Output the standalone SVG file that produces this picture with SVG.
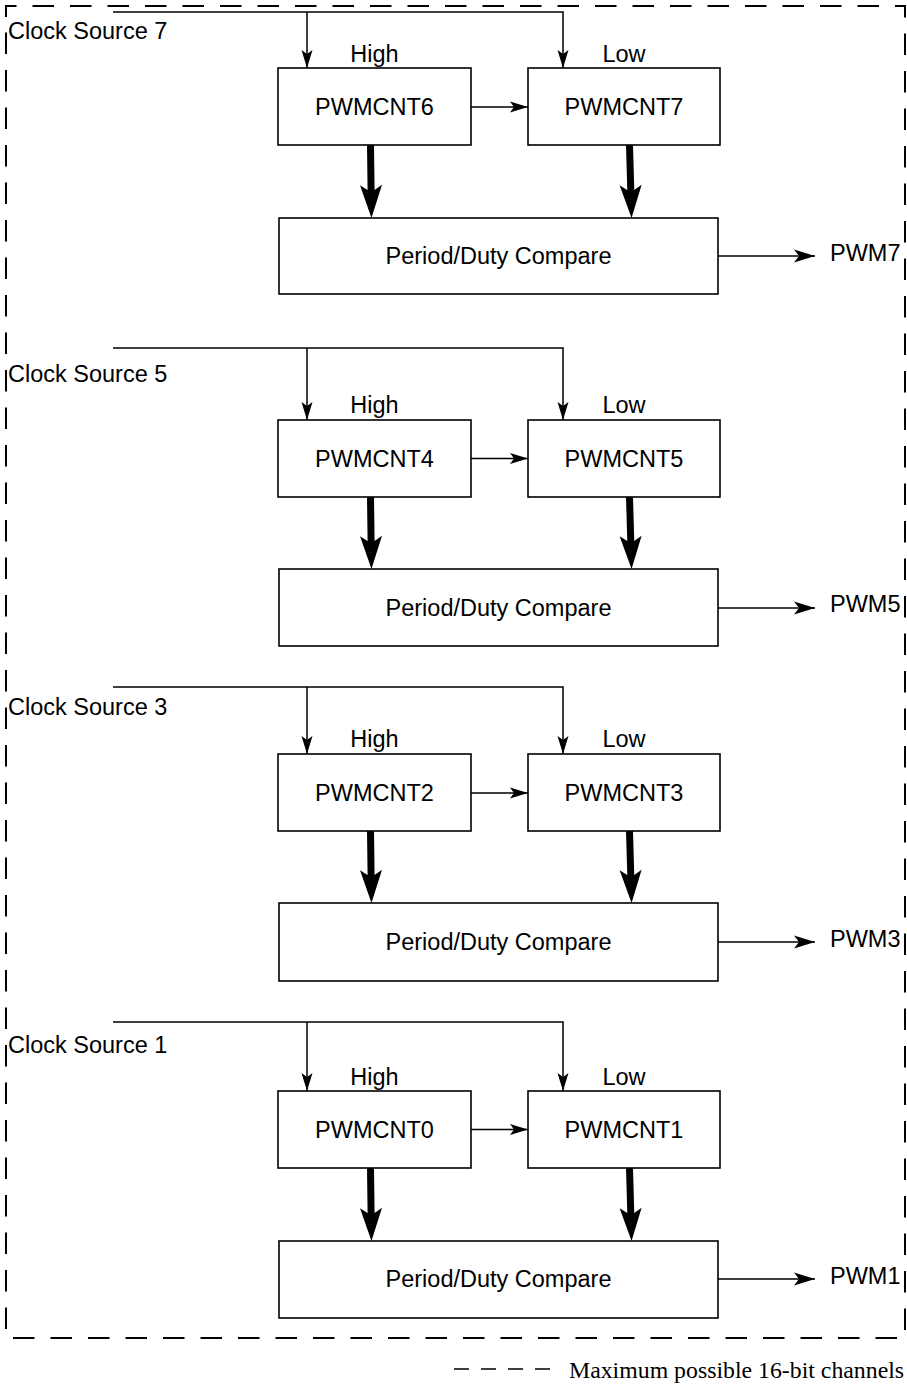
<svg xmlns="http://www.w3.org/2000/svg" width="907" height="1385" viewBox="0 0 907 1385">
<style>
.box{fill:#fff;stroke:#000;stroke-width:1.6}
.t{font-family:"Liberation Sans",Arial,sans-serif;font-size:23.5px;fill:#000}
.c{text-anchor:middle}
.w{fill:none;stroke:#000;stroke-width:1.5}
.thk{fill:none;stroke:#000;stroke-width:7}
.dash{fill:none;stroke:#000;stroke-width:2;stroke-dasharray:21.5 16}
.leg{font-family:"Liberation Serif","Times New Roman",serif;font-size:23.8px;fill:#000}
</style>
<defs>
<marker id="ah" markerUnits="userSpaceOnUse" viewBox="-20 -7 22 14" markerWidth="22" markerHeight="14" refX="0" refY="0" orient="auto">
<path d="M0,0 L-18,-5.5 L-14,0 L-18,5.5 Z" fill="#000"/>
</marker>
<marker id="ao" markerUnits="userSpaceOnUse" viewBox="-23 -8 25 16" markerWidth="25" markerHeight="16" refX="0" refY="0" orient="auto">
<path d="M0,0 L-21,-6.5 L-16,0 L-21,6.5 Z" fill="#000"/>
</marker>
<marker id="at" markerUnits="userSpaceOnUse" viewBox="-8 -12 38 24" markerWidth="38" markerHeight="24" refX="0" refY="0" orient="auto">
<path d="M27,0 L-6,-11 L0,-2 L0,2 L-6,11 Z" fill="#000"/>
</marker>
</defs>
<rect width="907" height="1385" fill="#fff"/>

<g id="border">
<path class="dash" d="M6,17 L6,6 L905,6 L905,1338 L6,1338 Z"/>
</g>

<g id="connectors">
<!-- section 1 -->
<path class="w" d="M113,12 H563 V68" marker-end="url(#ah)"/>
<path class="w" d="M307,12 V68" marker-end="url(#ah)"/>
<path class="w" d="M471,107 H528" marker-end="url(#ah)"/>
<path class="thk" d="M370.5,145 L371.1,191" marker-end="url(#at)"/>
<path class="thk" d="M629.5,145 L630.8,191" marker-end="url(#at)"/>
<path class="w" d="M718,256 H815" marker-end="url(#ao)"/>
<!-- section 2 -->
<path class="w" d="M113,348 H563 V420" marker-end="url(#ah)"/>
<path class="w" d="M307,348 V420" marker-end="url(#ah)"/>
<path class="w" d="M471,458.5 H528" marker-end="url(#ah)"/>
<path class="thk" d="M370.5,497 L371.1,542" marker-end="url(#at)"/>
<path class="thk" d="M629.5,497 L630.8,542" marker-end="url(#at)"/>
<path class="w" d="M718,608 H815" marker-end="url(#ao)"/>
<!-- section 3 -->
<path class="w" d="M113,687 H563 V754" marker-end="url(#ah)"/>
<path class="w" d="M307,687 V754" marker-end="url(#ah)"/>
<path class="w" d="M471,793 H528" marker-end="url(#ah)"/>
<path class="thk" d="M370.5,831 L371.1,876" marker-end="url(#at)"/>
<path class="thk" d="M629.5,831 L630.8,876" marker-end="url(#at)"/>
<path class="w" d="M718,942 H815" marker-end="url(#ao)"/>
<!-- section 4 -->
<path class="w" d="M113,1022 H563 V1091" marker-end="url(#ah)"/>
<path class="w" d="M307,1022 V1091" marker-end="url(#ah)"/>
<path class="w" d="M471,1129.5 H528" marker-end="url(#ah)"/>
<path class="thk" d="M370.5,1168 L371.1,1214" marker-end="url(#at)"/>
<path class="thk" d="M629.5,1168 L630.8,1214" marker-end="url(#at)"/>
<path class="w" d="M718,1279 H815" marker-end="url(#ao)"/>
</g>

<!-- Section 1 -->
<g id="clk7"><text class="t" x="8" y="39">Clock Source 7</text></g>
<g id="pwmcnt6"><text class="t c" x="374.5" y="62">High</text><rect class="box" x="278" y="68" width="193" height="77"/><text class="t c" x="374.5" y="115">PWMCNT6</text></g>
<g id="pwmcnt7"><text class="t c" x="624" y="62">Low</text><rect class="box" x="528" y="68" width="192" height="77"/><text class="t c" x="624" y="115">PWMCNT7</text></g>
<g id="cmp7"><rect class="box" x="279" y="218" width="439" height="76"/><text class="t c" x="498.5" y="264">Period/Duty Compare</text></g>
<g id="pwm7"><text class="t" x="830" y="261">PWM7</text></g>

<!-- Section 2 -->
<g id="clk5"><text class="t" x="8" y="382">Clock Source 5</text></g>
<g id="pwmcnt4"><text class="t c" x="374.5" y="413">High</text><rect class="box" x="278" y="420" width="193" height="77"/><text class="t c" x="374.5" y="467">PWMCNT4</text></g>
<g id="pwmcnt5"><text class="t c" x="624" y="413">Low</text><rect class="box" x="528" y="420" width="192" height="77"/><text class="t c" x="624" y="467">PWMCNT5</text></g>
<g id="cmp5"><rect class="box" x="279" y="569" width="439" height="77"/><text class="t c" x="498.5" y="616">Period/Duty Compare</text></g>
<g id="pwm5"><text class="t" x="830" y="612">PWM5</text></g>

<!-- Section 3 -->
<g id="clk3"><text class="t" x="8" y="715">Clock Source 3</text></g>
<g id="pwmcnt2"><text class="t c" x="374.5" y="747">High</text><rect class="box" x="278" y="754" width="193" height="77"/><text class="t c" x="374.5" y="801">PWMCNT2</text></g>
<g id="pwmcnt3"><text class="t c" x="624" y="747">Low</text><rect class="box" x="528" y="754" width="192" height="77"/><text class="t c" x="624" y="801">PWMCNT3</text></g>
<g id="cmp3"><rect class="box" x="279" y="903" width="439" height="78"/><text class="t c" x="498.5" y="950">Period/Duty Compare</text></g>
<g id="pwm3"><text class="t" x="830" y="947">PWM3</text></g>

<!-- Section 4 -->
<g id="clk1"><text class="t" x="8" y="1053">Clock Source 1</text></g>
<g id="pwmcnt0"><text class="t c" x="374.5" y="1085">High</text><rect class="box" x="278" y="1091" width="193" height="77"/><text class="t c" x="374.5" y="1138">PWMCNT0</text></g>
<g id="pwmcnt1"><text class="t c" x="624" y="1085">Low</text><rect class="box" x="528" y="1091" width="192" height="77"/><text class="t c" x="624" y="1138">PWMCNT1</text></g>
<g id="cmp1"><rect class="box" x="279" y="1241" width="439" height="77"/><text class="t c" x="498.5" y="1287">Period/Duty Compare</text></g>
<g id="pwm1"><text class="t" x="830" y="1284">PWM1</text></g>

<g id="legend">
<path d="M454,1369 H550" fill="none" stroke="#000" stroke-width="1.5" stroke-dasharray="15 12"/>
<text class="leg" x="569" y="1378">Maximum possible 16-bit channels</text>
</g>
</svg>
